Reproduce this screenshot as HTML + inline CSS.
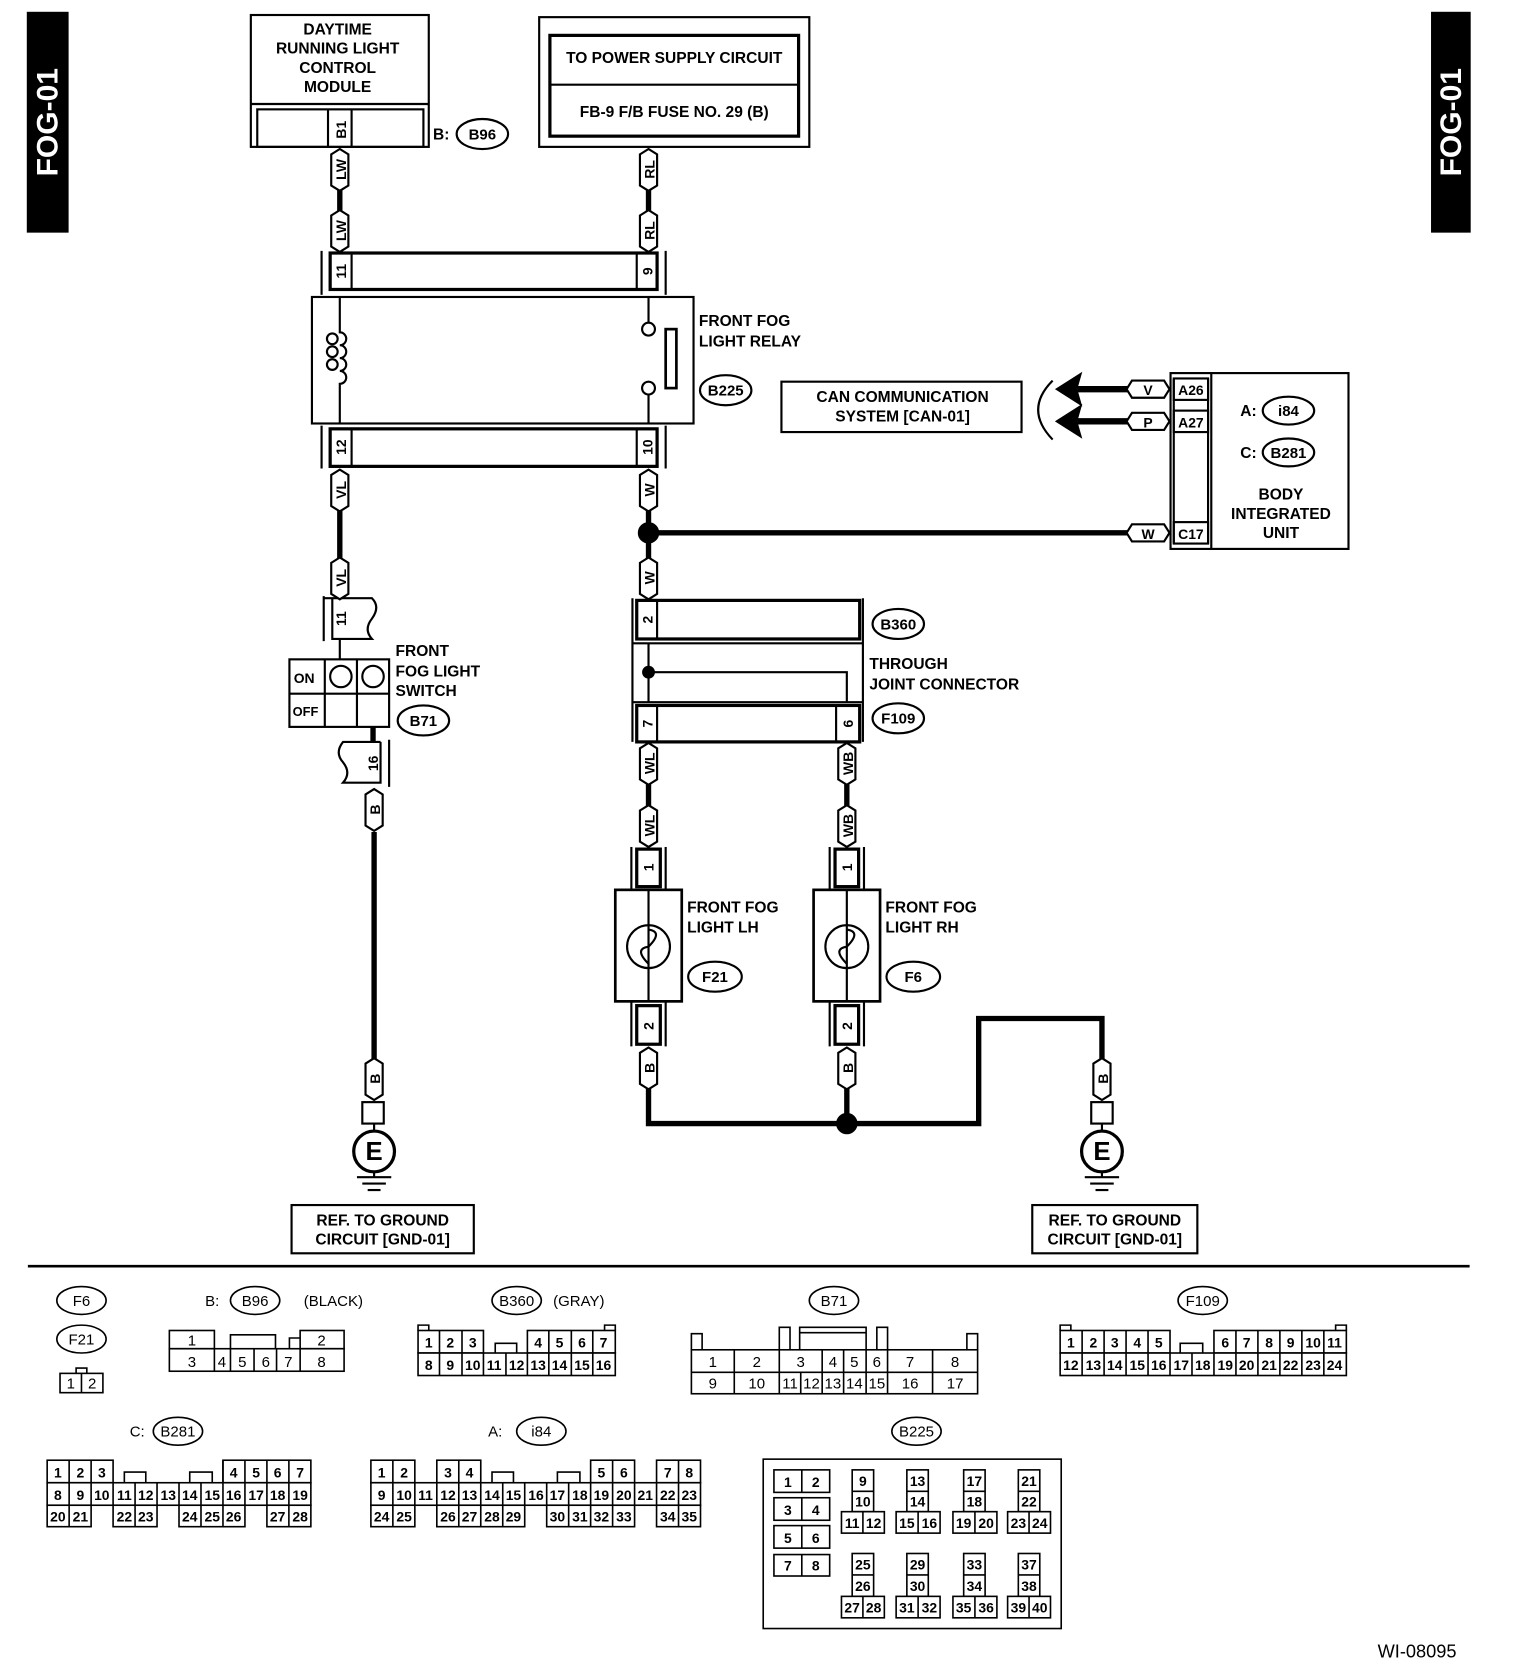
<!DOCTYPE html>
<html><head><meta charset="utf-8"><style>
html,body{margin:0;padding:0;background:#fff}
svg{display:block}
text{font-family:"Liberation Sans",sans-serif;font-weight:bold;fill:#000}
.c text{font-weight:normal;font-size:14px}
</style></head><body>
<svg width="1520" height="1680" viewBox="0 0 1418 1567" preserveAspectRatio="none" xmlns="http://www.w3.org/2000/svg">
<g fill="none" stroke="#000" stroke-width="2">
<rect x="26" y="12" width="37" height="204" fill="#000"/>
<rect x="1336" y="12" width="35" height="204" fill="#000"/>
<rect x="234" y="14" width="166" height="123"/>
<line x1="234" y1="97" x2="400" y2="97"/>
<rect x="240" y="102" width="155" height="35"/>
<line x1="306" y1="102" x2="306" y2="137"/><line x1="328" y1="102" x2="328" y2="137"/>
<ellipse cx="450" cy="125" rx="24" ry="14"/>
<rect x="503" y="16" width="252" height="121"/>
<rect x="513" y="33" width="232" height="94" stroke-width="3"/>
<line x1="513" y1="79" x2="745" y2="79"/>
<line x1="317" y1="176" x2="317" y2="198" stroke-width="5"/>
<line x1="605" y1="176" x2="605" y2="198" stroke-width="5"/>
<line x1="300" y1="234" x2="300" y2="275"/><line x1="621" y1="234" x2="621" y2="275"/>
<rect x="308" y="236" width="305" height="34" stroke-width="3"/>
<line x1="328" y1="236" x2="328" y2="270"/><line x1="594" y1="236" x2="594" y2="270"/>
<rect x="291" y="277" width="356" height="118"/>
<line x1="300" y1="397" x2="300" y2="437"/><line x1="621" y1="397" x2="621" y2="437"/>
<rect x="308" y="400" width="305" height="35" stroke-width="3"/>
<line x1="328" y1="400" x2="328" y2="435"/><line x1="594" y1="400" x2="594" y2="435"/>
<path d="M317 277 V310 a6 6 0 0 1 0 12 a6 6 0 0 1 0 12 a6 6 0 0 1 0 12 a6 6 0 0 1 0 12 V395"/>
<circle cx="310" cy="316" r="5"/><circle cx="310" cy="328" r="5"/><circle cx="310" cy="340" r="5"/>
<line x1="605" y1="277" x2="605" y2="301"/><circle cx="605" cy="307" r="6"/>
<circle cx="605" cy="362" r="6"/><line x1="605" y1="368" x2="605" y2="395"/>
<rect x="621" y="307" width="10" height="55" stroke-width="2.5"/>
<ellipse cx="677" cy="364" rx="24" ry="14"/>
<line x1="317" y1="476" x2="317" y2="522" stroke-width="5"/>
<path d="M302 556 V598 M302 558 H347 q8 8 0 19 q-8 10 0 19 H310 V558"/>
<line x1="317" y1="596" x2="317" y2="615" stroke-width="2"/>
<rect x="270" y="615" width="93" height="63"/>
<line x1="270" y1="647" x2="363" y2="647"/><line x1="303" y1="615" x2="303" y2="678"/><line x1="333" y1="615" x2="333" y2="678"/>
<circle cx="318" cy="631" r="10"/><circle cx="348" cy="631" r="10"/>
<line x1="348" y1="678" x2="348" y2="692" stroke-width="5"/>
<path d="M363 690 V734 M355 692 H320 q-8 10 0 19 q8 10 0 19 H355 V692"/>
<ellipse cx="395" cy="672" rx="24" ry="14"/>
<line x1="349" y1="776" x2="349" y2="990" stroke-width="5"/>
<rect x="338" y="1028" width="20" height="20"/>
<line x1="349" y1="1048" x2="349" y2="1054"/>
<circle cx="349" cy="1074" r="19" stroke-width="3"/>
<line x1="349" y1="1093" x2="349" y2="1098"/>
<line x1="333" y1="1098" x2="365" y2="1098"/><line x1="338" y1="1104" x2="360" y2="1104"/><line x1="343" y1="1110" x2="355" y2="1110"/>
<rect x="272" y="1124" width="170" height="45"/>
<line x1="605" y1="476" x2="605" y2="522" stroke-width="5"/>
<line x1="605" y1="497" x2="1052" y2="497" stroke-width="5"/>
<circle cx="605" cy="497" r="9" fill="#000"/>
<line x1="590" y1="558" x2="590" y2="692"/><line x1="805" y1="558" x2="805" y2="692"/>
<rect x="594" y="560" width="208" height="36" stroke-width="3"/>
<line x1="613" y1="560" x2="613" y2="596"/>
<line x1="590" y1="600" x2="805" y2="600"/><line x1="590" y1="655" x2="805" y2="655"/>
<line x1="605" y1="600" x2="605" y2="655"/>
<path d="M605 627 H790 V655"/>
<circle cx="605" cy="627" r="5" fill="#000"/>
<rect x="594" y="658" width="208" height="34" stroke-width="3"/>
<line x1="613" y1="658" x2="613" y2="692"/><line x1="780" y1="658" x2="780" y2="692"/>
<ellipse cx="838" cy="582" rx="24" ry="14"/>
<ellipse cx="838" cy="670" rx="24" ry="14"/>
<line x1="605" y1="731" x2="605" y2="754" stroke-width="5"/>
<line x1="790" y1="731" x2="790" y2="754" stroke-width="5"/>
<line x1="589" y1="790" x2="589" y2="830"/><line x1="621" y1="790" x2="621" y2="830"/>
<rect x="594" y="792" width="22" height="35" stroke-width="3"/>
<rect x="574" y="830" width="62" height="104" stroke-width="2.5"/>
<line x1="605" y1="830" x2="605" y2="934"/>
<circle cx="605" cy="883" r="20"/><path d="M605 867 q14 2 0 16 q-14 2 0 16"/>
<line x1="589" y1="934" x2="589" y2="976"/><line x1="621" y1="934" x2="621" y2="976"/>
<rect x="594" y="938" width="22" height="36" stroke-width="3"/>
<ellipse cx="667" cy="911" rx="25" ry="14"/>
<line x1="774" y1="790" x2="774" y2="830"/><line x1="806" y1="790" x2="806" y2="830"/>
<rect x="779" y="792" width="22" height="35" stroke-width="3"/>
<rect x="759" y="830" width="62" height="104" stroke-width="2.5"/>
<line x1="790" y1="830" x2="790" y2="934"/>
<circle cx="790" cy="883" r="20"/><path d="M790 867 q14 2 0 16 q-14 2 0 16"/>
<line x1="774" y1="934" x2="774" y2="976"/><line x1="806" y1="934" x2="806" y2="976"/>
<rect x="779" y="938" width="22" height="36" stroke-width="3"/>
<ellipse cx="852" cy="911" rx="25" ry="14"/>
<path d="M605 1014 V1048 H913 V950 H1028 V990" stroke-width="5"/>
<line x1="790" y1="1014" x2="790" y2="1048" stroke-width="5"/>
<circle cx="790" cy="1048" r="9" fill="#000"/>
<rect x="1018" y="1028" width="20" height="20"/>
<line x1="1028" y1="1048" x2="1028" y2="1054"/>
<circle cx="1028" cy="1074" r="19" stroke-width="3"/>
<line x1="1028" y1="1093" x2="1028" y2="1098"/>
<line x1="1012" y1="1098" x2="1044" y2="1098"/><line x1="1017" y1="1104" x2="1039" y2="1104"/><line x1="1022" y1="1110" x2="1034" y2="1110"/>
<rect x="963" y="1124" width="154" height="45"/>
<rect x="729" y="356" width="224" height="47"/>
<path d="M982 355 Q955 382 982 410"/>
<line x1="1005" y1="363" x2="1052" y2="363" stroke-width="6"/>
<line x1="1005" y1="393" x2="1052" y2="393" stroke-width="6"/>
<polygon points="986,363 1008,349 1004,363 1008,377" fill="#000"/>
<polygon points="986,393 1008,379 1004,393 1008,407" fill="#000"/>
<rect x="1092" y="348" width="166" height="164"/>
<line x1="1130" y1="348" x2="1130" y2="512"/>
<rect x="1095" y="353" width="32" height="20"/>
<rect x="1095" y="383" width="32" height="20"/>
<rect x="1095" y="487" width="32" height="20"/>
<line x1="1095" y1="353" x2="1095" y2="507"/><line x1="1127" y1="353" x2="1127" y2="507"/>
<ellipse cx="1202" cy="383" rx="24" ry="13"/>
<ellipse cx="1202" cy="422" rx="24" ry="13"/>
<line x1="26" y1="1181" x2="1371" y2="1181" stroke-width="2.5"/>
</g>
<g fill="#fff" stroke="#000" stroke-width="2">
<path d="M309 144 l8 -5 l8 5 v29 l-8 5 l-8 -5z"/><path d="M309 201 l8 -5 l8 5 v29 l-8 5 l-8 -5z"/>
<path d="M597 144 l8 -5 l8 5 v29 l-8 5 l-8 -5z"/><path d="M597 201 l8 -5 l8 5 v29 l-8 5 l-8 -5z"/>
<path d="M309 443 l8 -5 l8 5 v29 l-8 5 l-8 -5z"/><path d="M597 443 l8 -5 l8 5 v29 l-8 5 l-8 -5z"/>
<path d="M309 525 l8 -5 l8 5 v29 l-8 5 l-8 -5z"/><path d="M597 525 l8 -5 l8 5 v29 l-8 5 l-8 -5z"/>
<path d="M341 741 l8 -5 l8 5 v29 l-8 5 l-8 -5z"/>
<path d="M597 698 l8 -5 l8 5 v29 l-8 5 l-8 -5z"/><path d="M782 698 l8 -5 l8 5 v29 l-8 5 l-8 -5z"/>
<path d="M597 756 l8 -5 l8 5 v29 l-8 5 l-8 -5z"/><path d="M782 756 l8 -5 l8 5 v29 l-8 5 l-8 -5z"/>
<path d="M597 982 l8 -5 l8 5 v29 l-8 5 l-8 -5z"/><path d="M782 982 l8 -5 l8 5 v29 l-8 5 l-8 -5z"/>
<path d="M341 992 l8 -5 l8 5 v29 l-8 5 l-8 -5z"/><path d="M1020 992 l8 -5 l8 5 v29 l-8 5 l-8 -5z"/>
<path d="M1056 355 h30 l5 8 l-5 8 h-30 l-5 -8z"/>
<path d="M1056 385 h30 l5 8 l-5 8 h-30 l-5 -8z"/>
<path d="M1056 489 h30 l5 8 l-5 8 h-30 l-5 -8z"/>
</g>
<g font-size="13" text-anchor="middle" dominant-baseline="central">
<text transform="translate(318,121) rotate(-90)">B1</text>
<text transform="translate(318,158) rotate(-90)">LW</text>
<text transform="translate(318,215) rotate(-90)">LW</text>
<text transform="translate(606,158) rotate(-90)">RL</text>
<text transform="translate(606,215) rotate(-90)">RL</text>
<text transform="translate(318,253) rotate(-90)">11</text>
<text transform="translate(604,253) rotate(-90)">9</text>
<text transform="translate(318,417) rotate(-90)">12</text>
<text transform="translate(604,417) rotate(-90)">10</text>
<text transform="translate(318,457) rotate(-90)">VL</text>
<text transform="translate(606,457) rotate(-90)">W</text>
<text transform="translate(318,539) rotate(-90)">VL</text>
<text transform="translate(606,539) rotate(-90)">W</text>
<text transform="translate(318,577) rotate(-90)">11</text>
<text transform="translate(348,712) rotate(-90)">16</text>
<text transform="translate(350,755) rotate(-90)">B</text>
<text transform="translate(604,578) rotate(-90)">2</text>
<text transform="translate(604,675) rotate(-90)">7</text>
<text transform="translate(791,675) rotate(-90)">6</text>
<text transform="translate(606,712) rotate(-90)">WL</text>
<text transform="translate(791,712) rotate(-90)">WB</text>
<text transform="translate(606,770) rotate(-90)">WL</text>
<text transform="translate(791,770) rotate(-90)">WB</text>
<text transform="translate(605,809) rotate(-90)">1</text>
<text transform="translate(790,809) rotate(-90)">1</text>
<text transform="translate(605,957) rotate(-90)">2</text>
<text transform="translate(790,957) rotate(-90)">2</text>
<text transform="translate(606,996) rotate(-90)">B</text>
<text transform="translate(791,996) rotate(-90)">B</text>
<text transform="translate(350,1006) rotate(-90)">B</text>
<text transform="translate(1029,1006) rotate(-90)">B</text>
<text x="1071" y="364">V</text><text x="1071" y="394">P</text><text x="1071" y="498">W</text>
<text x="1111" y="364">A26</text><text x="1111" y="394">A27</text><text x="1111" y="498">C17</text>
<text transform="translate(45,114) rotate(-90)" font-size="28" style="fill:#fff">FOG-01</text>
<text transform="translate(1354,114) rotate(-90)" font-size="28" style="fill:#fff">FOG-01</text>
</g>
<g font-size="14.5" text-anchor="middle">
<text x="315" y="32">DAYTIME</text><text x="315" y="50">RUNNING LIGHT</text><text x="315" y="68">CONTROL</text><text x="315" y="86">MODULE</text>
<text x="629" y="59">TO POWER SUPPLY CIRCUIT</text><text x="629" y="109">FB-9 F/B FUSE NO. 29 (B)</text>
<text x="842" y="375">CAN COMMUNICATION</text><text x="842" y="393">SYSTEM [CAN-01]</text>
<text x="1195" y="466">BODY</text><text x="1195" y="484">INTEGRATED</text><text x="1195" y="502">UNIT</text>
<text x="357" y="1143">REF. TO GROUND</text><text x="357" y="1161">CIRCUIT [GND-01]</text>
<text x="1040" y="1143">REF. TO GROUND</text><text x="1040" y="1161">CIRCUIT [GND-01]</text>
</g>
<g font-size="14.5">
<text x="652" y="304">FRONT FOG</text><text x="652" y="323">LIGHT RELAY</text>
<text x="369" y="612">FRONT</text><text x="369" y="631">FOG LIGHT</text><text x="369" y="649">SWITCH</text>
<text x="811" y="624">THROUGH</text><text x="811" y="643">JOINT CONNECTOR</text>
<text x="641" y="851">FRONT FOG</text><text x="641" y="870">LIGHT LH</text>
<text x="826" y="851">FRONT FOG</text><text x="826" y="870">LIGHT RH</text>
<text x="404" y="130">B:</text>
<text x="1157" y="388">A:</text><text x="1157" y="427">C:</text>
<text x="274" y="637" font-size="13">ON</text><text x="273" y="668" font-size="12">OFF</text>
</g>
<g font-size="14" text-anchor="middle">
<text x="450" y="130">B96</text><text x="677" y="369">B225</text><text x="395" y="677">B71</text>
<text x="838" y="587">B360</text><text x="838" y="675">F109</text>
<text x="667" y="916">F21</text><text x="852" y="916">F6</text>
<text x="1202" y="388">i84</text><text x="1202" y="427">B281</text>
<text x="349" y="1082" font-size="24">E</text><text x="1028" y="1082" font-size="24">E</text>
</g>
<g fill="none" stroke="#000" stroke-width="1.5">
<ellipse cx="76" cy="1213" rx="23" ry="13"/><ellipse cx="76" cy="1249" rx="23" ry="13"/>
<rect x="56" y="1281" width="40" height="18"/><line x1="76" y1="1281" x2="76" y2="1299"/><path d="M71 1281 v-5 h10 v5"/>
<ellipse cx="238" cy="1213" rx="23" ry="13"/>
<rect x="158" y="1241" width="42" height="17"/><rect x="280" y="1241" width="41" height="17"/>
<path d="M215 1258 v-13 h42 v13 M270 1258 v-10 h10"/>
<rect x="158" y="1258" width="163" height="21"/>
<path d="M200 1258 v21 M215 1258 v21 M237 1258 v21 M258 1258 v21 M280 1258 v21"/>
<ellipse cx="482" cy="1213" rx="23" ry="13"/>
<ellipse cx="778" cy="1213" rx="23" ry="13"/>
<ellipse cx="1122" cy="1213" rx="23" ry="13"/>
<ellipse cx="166" cy="1335" rx="23" ry="13"/>
<ellipse cx="505" cy="1335" rx="23" ry="13"/>
<ellipse cx="855" cy="1335" rx="23" ry="13"/>
<rect x="645" y="1259" width="267" height="41"/><line x1="645" y1="1280" x2="912" y2="1280"/>
<path d="M685 1259 v41 M727 1259 v41 M767 1259 v21 M787 1259 v41 M808 1259 v41 M828 1259 v41 M870 1259 v41 M747 1280 v20 M767 1280 v20"/>
<path d="M645 1259 v-15 h10 v15 M727 1259 v-21 h10 v21 M746 1259 v-21 h62 v21 M746 1243 h62 M818 1259 v-21 h10 v21 M902 1259 v-15 h10 v15"/>
<rect x="712" y="1361" width="278" height="158"/>
</g>
<g class="c" font-size="14" text-anchor="middle">
<text x="76" y="1218" font-weight="bold">F6</text><text x="76" y="1254" font-weight="bold">F21</text>
<text x="238" y="1218" font-weight="bold">B96</text><text x="198" y="1218" font-weight="bold">B:</text><text x="311" y="1218" font-weight="bold">(BLACK)</text>
<text x="482" y="1218" font-weight="bold">B360</text><text x="540" y="1218" font-weight="bold">(GRAY)</text>
<text x="778" y="1218" font-weight="bold">B71</text><text x="1122" y="1218" font-weight="bold">F109</text>
<text x="166" y="1340" font-weight="bold">B281</text><text x="128" y="1340" font-weight="bold">C:</text>
<text x="505" y="1340" font-weight="bold">i84</text><text x="462" y="1340" font-weight="bold">A:</text>
<text x="855" y="1340" font-weight="bold">B225</text>
<text x="66" y="1295">1</text><text x="86" y="1295">2</text>
<text x="179" y="1255">1</text><text x="300" y="1255">2</text>
<text x="179" y="1275">3</text><text x="207" y="1275">4</text><text x="226" y="1275">5</text><text x="248" y="1275">6</text><text x="269" y="1275">7</text><text x="300" y="1275">8</text>
<text x="665" y="1275">1</text><text x="706" y="1275">2</text><text x="747" y="1275">3</text><text x="777" y="1275">4</text><text x="797" y="1275">5</text><text x="818" y="1275">6</text><text x="849" y="1275">7</text><text x="891" y="1275">8</text>
<text x="665" y="1295">9</text><text x="706" y="1295">10</text><text x="737" y="1295">11</text><text x="757" y="1295">12</text><text x="777" y="1295">13</text><text x="797" y="1295">14</text><text x="818" y="1295">15</text><text x="849" y="1295">16</text><text x="891" y="1295">17</text>
</g>
<g font-size="13" text-anchor="middle" style="font-weight:normal">
<g fill="#fff" stroke="#000" stroke-width="1.5">
<rect x="390" y="1241" width="61" height="21"/><rect x="492" y="1241" width="82" height="21"/>
<rect x="390" y="1262" width="184" height="21"/>
<path d="M410 1241v42M431 1241v42M451 1262v21M472 1262v21M492 1262v21M512 1241v42M533 1241v42M553 1241v42M462 1262v-9h20v9M390 1241v-5h10v5M564 1241v-5h10v5" fill="none"/>
</g>
<text x="400" y="1257">1</text><text x="420" y="1257">2</text><text x="441" y="1257">3</text><text x="502" y="1257">4</text><text x="522" y="1257">5</text><text x="543" y="1257">6</text><text x="563" y="1257">7</text>
<text x="400" y="1278">8</text><text x="420" y="1278">9</text><text x="441" y="1278">10</text><text x="461" y="1278">11</text><text x="482" y="1278">12</text><text x="502" y="1278">13</text><text x="522" y="1278">14</text><text x="543" y="1278">15</text><text x="563" y="1278">16</text>
<g fill="#fff" stroke="#000" stroke-width="1.5">
<rect x="989" y="1241" width="102.5" height="21"/><rect x="1132.5" y="1241" width="123.5" height="21"/>
<rect x="989" y="1262" width="267" height="21"/>
<path d="M1009.5 1241v42M1030 1241v42M1050.5 1241v42M1071 1241v42M1091.5 1262v21M1112 1262v21M1132.5 1262v21M1153 1241v42M1173.5 1241v42M1194 1241v42M1214.5 1241v42M1235 1241v42M1101 1262v-9h21v9M989 1241v-5h10v5M1246 1241v-5h10v5" fill="none"/>
</g>
<text x="999" y="1257">1</text><text x="1020" y="1257">2</text><text x="1040" y="1257">3</text><text x="1061" y="1257">4</text><text x="1081" y="1257">5</text><text x="1143" y="1257">6</text><text x="1163" y="1257">7</text><text x="1184" y="1257">8</text><text x="1204" y="1257">9</text><text x="1225" y="1257">10</text><text x="1245" y="1257">11</text>
<text x="999" y="1278">12</text><text x="1020" y="1278">13</text><text x="1040" y="1278">14</text><text x="1061" y="1278">15</text><text x="1081" y="1278">16</text><text x="1102" y="1278">17</text><text x="1122" y="1278">18</text><text x="1143" y="1278">19</text><text x="1163" y="1278">20</text><text x="1184" y="1278">21</text><text x="1204" y="1278">22</text><text x="1225" y="1278">23</text><text x="1245" y="1278">24</text>
<g fill="#fff" stroke="#000" stroke-width="1.5">
<rect x="44" y="1362" width="61.5" height="21"/><rect x="208" y="1362" width="82" height="21"/>
<rect x="44" y="1383" width="246" height="21"/>
<rect x="44" y="1404" width="41" height="20"/><rect x="105.5" y="1404" width="41" height="20"/><rect x="167" y="1404" width="61.5" height="20"/><rect x="249" y="1404" width="41" height="20"/>
<path d="M64.5 1362v62M85 1362v42M105.5 1383v21M126 1383v41M146.5 1383v21M167 1383v21M187.5 1383v41M208 1362v62M228.5 1362v42M249 1362v42M269.5 1362v62M116 1383v-10h20v10M177 1383v-10h21v10" fill="none"/>
</g>
<text x="54" y="1378">1</text><text x="75" y="1378">2</text><text x="95" y="1378">3</text><text x="218" y="1378">4</text><text x="239" y="1378">5</text><text x="259" y="1378">6</text><text x="280" y="1378">7</text>
<text x="54" y="1399">8</text><text x="75" y="1399">9</text><text x="95" y="1399">10</text><text x="116" y="1399">11</text><text x="136" y="1399">12</text><text x="157" y="1399">13</text><text x="177" y="1399">14</text><text x="198" y="1399">15</text><text x="218" y="1399">16</text><text x="239" y="1399">17</text><text x="259" y="1399">18</text><text x="280" y="1399">19</text>
<text x="54" y="1419">20</text><text x="75" y="1419">21</text><text x="116" y="1419">22</text><text x="136" y="1419">23</text><text x="177" y="1419">24</text><text x="198" y="1419">25</text><text x="218" y="1419">26</text><text x="259" y="1419">27</text><text x="280" y="1419">28</text>
<g fill="#fff" stroke="#000" stroke-width="1.5">
<rect x="346" y="1362" width="41" height="21"/><rect x="407.5" y="1362" width="41" height="21"/><rect x="551" y="1362" width="41" height="21"/><rect x="612.5" y="1362" width="41" height="21"/>
<rect x="346" y="1383" width="307.5" height="21"/>
<rect x="346" y="1404" width="41" height="20"/><rect x="407.5" y="1404" width="82" height="20"/><rect x="510" y="1404" width="82" height="20"/><rect x="612.5" y="1404" width="41" height="20"/>
<path d="M366.5 1362v62M387 1383v21M407.5 1383v21M428 1362v62M448.5 1383v41M469 1383v41M489.5 1383v21M510 1383v21M530.5 1383v41M551 1383v41M571.5 1362v62M592 1383v21M612.5 1383v21M633 1362v62M459 1383v-10h20v10M520 1383v-10h21v10" fill="none"/>
</g>
<text x="356" y="1378">1</text><text x="377" y="1378">2</text><text x="418" y="1378">3</text><text x="438" y="1378">4</text><text x="561" y="1378">5</text><text x="582" y="1378">6</text><text x="623" y="1378">7</text><text x="643" y="1378">8</text>
<text x="356" y="1399">9</text><text x="377" y="1399">10</text><text x="397" y="1399">11</text><text x="418" y="1399">12</text><text x="438" y="1399">13</text><text x="459" y="1399">14</text><text x="479" y="1399">15</text><text x="500" y="1399">16</text><text x="520" y="1399">17</text><text x="541" y="1399">18</text><text x="561" y="1399">19</text><text x="582" y="1399">20</text><text x="602" y="1399">21</text><text x="623" y="1399">22</text><text x="643" y="1399">23</text>
<text x="356" y="1419">24</text><text x="377" y="1419">25</text><text x="418" y="1419">26</text><text x="438" y="1419">27</text><text x="459" y="1419">28</text><text x="479" y="1419">29</text><text x="520" y="1419">30</text><text x="541" y="1419">31</text><text x="561" y="1419">32</text><text x="582" y="1419">33</text><text x="623" y="1419">34</text><text x="643" y="1419">35</text>
<g fill="#fff" stroke="#000" stroke-width="1.5">
<rect x="722" y="1371" width="52" height="21"/><rect x="722" y="1397" width="52" height="21"/><rect x="722" y="1423" width="52" height="21"/><rect x="722" y="1450" width="52" height="20"/>
<path d="M748 1371v21M748 1397v21M748 1423v21M748 1450v20" fill="none"/>
<rect x="795" y="1371" width="20" height="39"/><rect x="785" y="1410" width="40" height="20"/>
<rect x="846" y="1371" width="20" height="39"/><rect x="836" y="1410" width="41" height="20"/>
<rect x="899" y="1371" width="20" height="39"/><rect x="889" y="1410" width="41" height="20"/>
<rect x="950" y="1371" width="20" height="39"/><rect x="940" y="1410" width="40" height="20"/>
<rect x="795" y="1449" width="20" height="40"/><rect x="785" y="1489" width="40" height="20"/>
<rect x="846" y="1449" width="20" height="40"/><rect x="836" y="1489" width="41" height="20"/>
<rect x="899" y="1449" width="20" height="40"/><rect x="889" y="1489" width="41" height="20"/>
<rect x="950" y="1449" width="20" height="40"/><rect x="940" y="1489" width="40" height="20"/>
<path d="M795 1391h20M846 1391h20M899 1391h20M950 1391h20M795 1469h20M846 1469h20M899 1469h20M950 1469h20M805 1410v20M856.5 1410v20M909.5 1410v20M960 1410v20M805 1489v20M856.5 1489v20M909.5 1489v20M960 1489v20" fill="none"/>
</g>
<text x="735" y="1387">1</text><text x="761" y="1387">2</text><text x="735" y="1413">3</text><text x="761" y="1413">4</text><text x="735" y="1439">5</text><text x="761" y="1439">6</text><text x="735" y="1465">7</text><text x="761" y="1465">8</text>
<text x="805" y="1386">9</text><text x="805" y="1405">10</text><text x="795" y="1425">11</text><text x="815" y="1425">12</text>
<text x="856" y="1386">13</text><text x="856" y="1405">14</text><text x="846" y="1425">15</text><text x="867" y="1425">16</text>
<text x="909" y="1386">17</text><text x="909" y="1405">18</text><text x="899" y="1425">19</text><text x="920" y="1425">20</text>
<text x="960" y="1386">21</text><text x="960" y="1405">22</text><text x="950" y="1425">23</text><text x="970" y="1425">24</text>
<text x="805" y="1464">25</text><text x="805" y="1484">26</text><text x="795" y="1504">27</text><text x="815" y="1504">28</text>
<text x="856" y="1464">29</text><text x="856" y="1484">30</text><text x="846" y="1504">31</text><text x="867" y="1504">32</text>
<text x="909" y="1464">33</text><text x="909" y="1484">34</text><text x="899" y="1504">35</text><text x="920" y="1504">36</text>
<text x="960" y="1464">37</text><text x="960" y="1484">38</text><text x="950" y="1504">39</text><text x="970" y="1504">40</text>
</g>
<text x="1322" y="1546" font-size="17" style="font-weight:normal" text-anchor="middle">WI-08095</text>
</svg>
</body></html>
